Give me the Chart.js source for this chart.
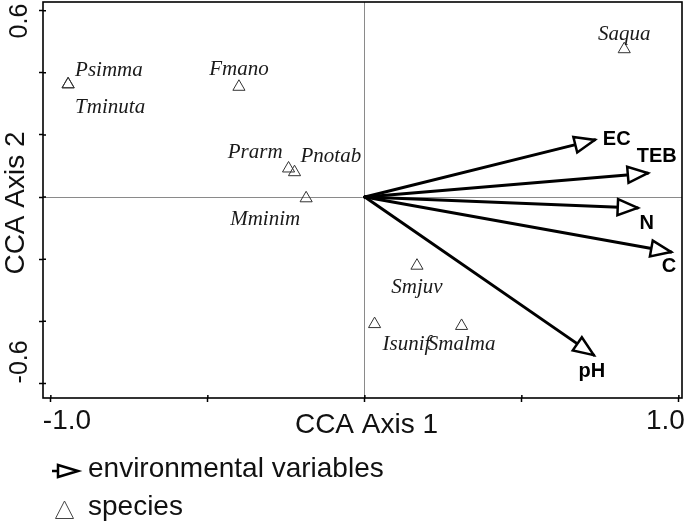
<!DOCTYPE html>
<html>
<head>
<meta charset="utf-8">
<script src="https://cdn.jsdelivr.net/npm/chart.js@4.4.1/dist/chart.umd.min.js"></script>
<style>
  html, body { margin: 0; padding: 0; background: #fff; }
  #wrap { width: 685px; height: 523px; position: relative; }
</style>
</head>
<body>
<div id="wrap"><canvas id="cca"></canvas></div>
<script>
// ---- data ----
const speciesNames = ['Psimma', 'Tminuta', 'Fmano', 'Prarm', 'Pnotab', 'Mminim', 'Saqua', 'Smjuv', 'Isunif', 'Smalma'];
const speciesAxis1 = [-0.945, -0.945, -0.401, -0.243, -0.224, -0.187, 0.826, 0.166, 0.031, 0.308];
const speciesAxis2 = [0.363, 0.363, 0.355, 0.092, 0.080, -0.004, 0.476, -0.221, -0.409, -0.415];

const envNames = ['EC', 'TEB', 'N', 'C', 'pH'];
const envAxis1 = [0.732, 0.901, 0.869, 0.975, 0.729];
const envAxis2 = [0.184, 0.077, -0.035, -0.177, -0.509];

const xTicks = [-1.0, -0.5, 0, 0.5, 1.0];
const yTicks = [-0.6, -0.4, -0.2, 0, 0.2, 0.4, 0.6];
const xTickLabels = ['-1.0', '1.0'];
const yTickLabels = ['-0.6', '0.6'];

const SANS = '"Liberation Sans", Arial, sans-serif';
const SERIF = '"Liberation Serif", "Times New Roman", serif';

// label placement around each species triangle (align, dx, dy to baseline)
const speciesLabelPos = {
    Psimma:  ['left', 7, -8],
    Tminuta: ['left', 7, 29],
    Fmano:   ['center', 0, -12],
    Prarm:   ['right', -6, -10],
    Pnotab:  ['left', 6, -10],
    Mminim:  ['right', -6, 27],
    Saqua:   ['center', 0, -9],
    Smjuv:   ['center', 0, 27],
    Isunif:  ['left', 8, 26],
    Smalma:  ['center', 0, 24]
};
// env label centre relative to arrow tip
const envLabelPos = {
    EC:  [22, 0],
    TEB: [9, -17],
    N:   [9, 16],
    C:   [-2, 14],
    pH:  [-2, 16]
};

function drawHead(ctx, tipX, tipY, ang, len, half) {
    const bx = tipX - Math.cos(ang) * len;
    const by = tipY - Math.sin(ang) * len;
    const nx = -Math.sin(ang) * half;
    const ny = Math.cos(ang) * half;
    ctx.beginPath();
    ctx.moveTo(tipX, tipY);
    ctx.lineTo(bx + nx, by + ny);
    ctx.lineTo(bx - nx, by - ny);
    ctx.closePath();
    ctx.fillStyle = '#fff';
    ctx.fill();
    ctx.stroke();
}

const biplotDecor = {
    id: 'biplotDecor',
    afterDatasetsDraw(chart) {
        const ctx = chart.ctx;
        const xs = chart.scales.x, ys = chart.scales.y;
        const area = chart.chartArea;
        ctx.save();

        // arrow heads + env labels
        ctx.strokeStyle = '#000';
        ctx.lineWidth = 2.5;
        ctx.lineJoin = 'miter';
        envNames.forEach((name, i) => {
            const meta = chart.getDatasetMeta(i + 1);
            const p0 = meta.data[0], p1 = meta.data[1];
            const ang = Math.atan2(p1.y - p0.y, p1.x - p0.x);
            drawHead(ctx, p1.x, p1.y, ang, 20, 8);
            const off = envLabelPos[name];
            ctx.fillStyle = '#000';
            ctx.font = 'bold 20px ' + SANS;
            ctx.textAlign = 'center';
            ctx.textBaseline = 'middle';
            ctx.fillText(name, p1.x + off[0], p1.y + off[1]);
        });

        // species labels
        const sp = chart.getDatasetMeta(0);
        ctx.font = 'italic 21px ' + SERIF;
        ctx.fillStyle = '#1a1a1a';
        ctx.textBaseline = 'alphabetic';
        speciesNames.forEach((name, i) => {
            const pt = sp.data[i];
            const pos = speciesLabelPos[name];
            ctx.textAlign = pos[0];
            ctx.fillText(name, pt.x + pos[1], pt.y + pos[2]);
        });

        // frame + inner tick stubs
        ctx.strokeStyle = '#000';
        ctx.lineWidth = 1.6;
        ctx.strokeRect(area.left, area.top, area.right - area.left, area.bottom - area.top);
        ctx.lineWidth = 1.5;
        ctx.beginPath();
        xTicks.forEach(v => {
            const px = xs.getPixelForValue(v);
            ctx.moveTo(px, area.bottom);
            ctx.lineTo(px, area.bottom - 3);
        });
        yTicks.forEach(v => {
            const py = ys.getPixelForValue(v);
            ctx.moveTo(area.left, py);
            ctx.lineTo(area.left + 3, py);
        });
        ctx.stroke();

        // x tick labels
        ctx.fillStyle = '#111';
        ctx.font = '28px ' + SANS;
        ctx.textBaseline = 'alphabetic';
        ctx.textAlign = 'left';
        ctx.fillText(xTickLabels[0], xs.getPixelForValue(-1.0) - 8, area.bottom + 31);
        ctx.textAlign = 'right';
        ctx.fillText(xTickLabels[1], xs.getPixelForValue(1.0) + 6, area.bottom + 31);

        // x title
        ctx.textAlign = 'center';
        ctx.fillText('CCA Axis 1', (area.left + area.right) / 2 + 4, area.bottom + 35);

        // y tick labels (rotated)
        ctx.font = '25px ' + SANS;
        ctx.save();
        ctx.translate(27, ys.getPixelForValue(-0.6));
        ctx.rotate(-Math.PI / 2);
        ctx.textAlign = 'left';
        ctx.fillText(yTickLabels[0], 0, 0);
        ctx.restore();
        ctx.save();
        ctx.translate(27, ys.getPixelForValue(0.6) - 7);
        ctx.rotate(-Math.PI / 2);
        ctx.textAlign = 'right';
        ctx.fillText(yTickLabels[1], 0, 0);
        ctx.restore();

        // y title
        ctx.font = '28px ' + SANS;
        ctx.save();
        ctx.translate(24, (area.top + area.bottom) / 2 + 3);
        ctx.rotate(-Math.PI / 2);
        ctx.textAlign = 'center';
        ctx.fillText('CCA Axis 2', 0, 0);
        ctx.restore();

        // legend
        ctx.strokeStyle = '#000';
        ctx.lineWidth = 2.5;
        ctx.beginPath();
        ctx.moveTo(52, 471);
        ctx.lineTo(60, 471);
        ctx.stroke();
        drawHead(ctx, 78, 471, 0, 20, 6);
        ctx.fillStyle = '#111';
        ctx.font = '28px ' + SANS;
        ctx.textAlign = 'left';
        ctx.fillText('environmental variables', 88, 477);

        ctx.strokeStyle = '#444';
        ctx.lineWidth = 1;
        ctx.beginPath();
        ctx.moveTo(64.5, 501);
        ctx.lineTo(73.5, 518.5);
        ctx.lineTo(55.5, 518.5);
        ctx.closePath();
        ctx.stroke();
        ctx.fillText('species', 88, 515);

        ctx.restore();
    }
};

const datasets = [{
    label: 'species',
    data: speciesNames.map((n, i) => ({ x: speciesAxis1[i], y: speciesAxis2[i] })),
    pointStyle: 'triangle',
    pointRadius: 7,
    pointBorderWidth: 1,
    pointBorderColor: '#333',
    pointBackgroundColor: 'rgba(255,255,255,0)',
    showLine: false
}];
envNames.forEach((name, i) => {
    datasets.push({
        label: name,
        data: [{ x: 0, y: 0 }, { x: envAxis1[i], y: envAxis2[i] }],
        showLine: true,
        borderColor: '#000',
        borderWidth: 3,
        pointRadius: 0,
        borderCapStyle: 'round'
    });
});

const zeroLine = c => c.tick && c.tick.value === 0 ? '#8a8a8a' : 'rgba(0,0,0,0)';

new Chart(document.getElementById('cca'), {
    type: 'scatter',
    data: { datasets: datasets },
    options: {
        responsive: true,
        maintainAspectRatio: false,
        animation: false,
        layout: { autoPadding: false, padding: { left: 39, top: 2, right: 3, bottom: 121 } },
        plugins: {
            legend: { display: false },
            tooltip: { enabled: false }
        },
        scales: {
            x: {
                type: 'linear',
                min: -1.025,
                max: 1.01,
                afterBuildTicks: axis => { axis.ticks = xTicks.map(v => ({ value: v })); },
                ticks: { display: false },
                border: { display: false },
                grid: { color: zeroLine, lineWidth: 1, tickColor: '#000', tickLength: 4, tickWidth: 1.5 }
            },
            y: {
                type: 'linear',
                min: -0.647,
                max: 0.628,
                afterBuildTicks: axis => { axis.ticks = yTicks.map(v => ({ value: v })); },
                ticks: { display: false },
                border: { display: false },
                grid: { color: zeroLine, lineWidth: 1, tickColor: '#000', tickLength: 4, tickWidth: 1.5 }
            }
        }
    },
    plugins: [biplotDecor]
});
</script>
</body>
</html>
